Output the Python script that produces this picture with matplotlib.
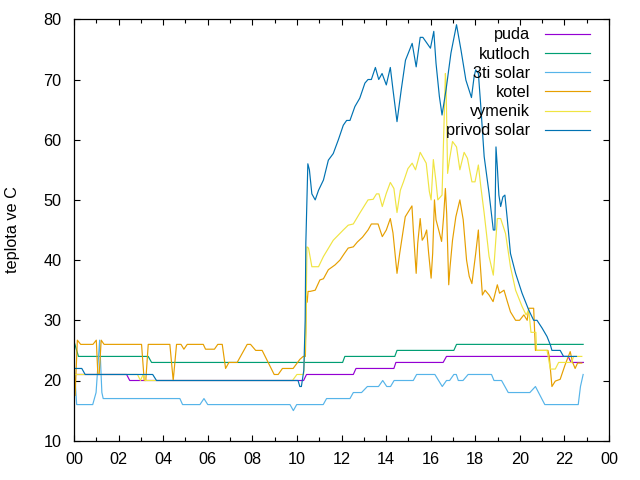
import matplotlib
matplotlib.use("Agg")
import matplotlib.pyplot as plt
from matplotlib.ticker import MultipleLocator, FuncFormatter

plt.rcParams['font.family'] = ['Liberation Sans', 'DejaVu Sans']

# casy v hodinach, teploty ve C
puda_h = [0.0, 2.36, 2.5, 10.3, 10.43, 12.53, 12.65, 14.35, 14.44, 16.56, 16.71, 22.17, 22.3, 22.85]
puda_t = [21, 21, 20, 20, 21, 21, 22, 22, 23, 23, 24, 24, 23, 23]

kutloch_h = [0.0, 0.2, 3.33, 3.48, 12.05, 12.15, 14.39, 14.49, 17.04, 17.16, 22.84]
kutloch_t = [26.5, 24, 24, 23, 23, 24, 24, 25, 25, 26, 26]

solar3_h = [0.0, 0.12, 0.84, 0.99, 1.15, 1.25, 1.31, 4.75, 4.87, 5.65, 5.83, 6.0,
            9.69, 9.84, 9.99, 11.18, 11.33, 12.38, 12.53, 12.9, 13.16, 13.66, 13.85,
            14.03, 14.2, 14.36, 15.22, 15.37, 16.19, 16.52, 16.71, 16.85, 17.04,
            17.15, 17.24, 17.45, 17.68, 18.73, 18.84, 19.18, 19.48, 20.45, 20.7,
            21.12, 22.62, 22.72, 22.84]
solar3_t = [23, 16, 16, 18, 26.7, 18, 17, 17, 16, 16, 17, 16,
            16, 15, 16, 16, 17, 17, 18, 18, 19, 19, 20,
            19, 19, 20, 20, 21, 21, 19, 20, 20, 21,
            21, 20, 20, 21, 21, 20, 20, 18, 18, 19,
            16, 16, 19, 21]

kotel_h = [0.0, 0.05, 0.15, 0.3, 0.85, 1.0, 1.07, 1.13, 1.22, 1.35, 3.03, 3.15, 3.22,
           3.33, 4.3, 4.45, 4.6, 4.8, 4.93, 5.08, 5.8, 5.9, 6.3, 6.45, 6.65, 6.8,
           6.95, 7.32, 7.77, 7.92, 8.15, 8.44, 8.98, 9.16, 9.35, 9.83, 10.13, 10.28,
           10.38, 10.4, 10.42, 10.46, 10.5, 10.59, 10.82, 11.03, 11.19, 11.41, 11.71,
           11.93, 12.11, 12.30, 12.53, 12.71, 12.94, 13.19, 13.34, 13.64, 13.83,
           14.01, 14.19, 14.31, 14.49, 14.61, 14.86, 15.16, 15.23, 15.35, 15.42,
           15.53, 15.62, 15.72, 15.82, 15.91, 16.02, 16.09, 16.17, 16.24, 16.36,
           16.49, 16.58, 16.66, 16.72, 16.81, 16.87, 16.98, 17.13, 17.31, 17.46,
           17.61, 17.73, 17.85, 18.02, 18.14, 18.2, 18.32, 18.44, 18.62, 18.80,
           18.99, 19.09, 19.29, 19.44, 19.58, 19.81, 19.99, 20.18, 20.33, 20.4,
           20.62, 20.7, 21.26, 21.32, 21.44, 21.59, 21.81, 22.03, 22.26, 22.36,
           22.48, 22.59, 22.78]
kotel_t = [23, 17.5, 26.7, 26, 26, 26.7, 21, 21, 26.7, 26, 26, 20, 20,
           26, 26, 20, 26, 26, 25.2, 26, 26, 25.2, 25.2, 26, 26, 22,
           23, 23, 26, 26, 25, 25, 21, 21, 22, 22, 23.5, 24,
           24, 28, 34, 33, 34.8, 34.8, 35, 36.7, 36.9, 38.4, 39.2,
           40, 41, 42, 42.2, 43, 43.8, 45, 46, 46, 43.9,
           45, 46.9, 44.5, 37.8, 41.1, 47.2, 49, 44.5, 37.8, 42.8,
           46.9, 43.3, 43.9, 45, 41.1, 37, 41.1, 50, 46.7, 45,
           43.1, 47.2, 51.9, 47.6, 35.9, 38.9, 43.3, 47.2, 50, 46.7,
           40, 37.3, 36.1, 41.1, 45, 40.6, 34.2, 35, 34.2, 33.1,
           35.9, 34.5, 35, 33.1, 31.4, 30, 30, 30.9, 30, 32,
           32, 25, 25, 24, 19, 19.9, 20.2, 22.6, 24.8, 23.1,
           22, 22.9, 22.9]

vymenik_h = [0.0, 0.4, 0.5, 2.85, 2.98, 3.1, 3.2, 3.6, 3.7, 9.8, 10.0, 10.3, 10.4,
             10.45, 10.52, 10.67, 10.97, 11.19, 11.63, 12.08, 12.30, 12.53, 12.82,
             13.19, 13.42, 13.57, 13.68, 13.83, 14.01, 14.19, 14.35, 14.49, 14.64,
             14.78, 14.98, 15.17, 15.32, 15.53, 15.80, 15.94, 16.02, 16.12, 16.24,
             16.32, 16.51, 16.57, 16.66, 16.69, 16.76, 16.84, 16.98, 17.16, 17.31,
             17.50, 17.65, 17.85, 17.99, 18.14, 18.25, 18.40, 18.62, 18.81, 18.99,
             19.14, 19.36, 19.58, 19.81, 20.10, 20.28, 20.40, 20.5, 20.72, 20.75,
             21.22, 21.37, 21.59, 21.74, 22.33, 22.41, 22.78]
vymenik_t = [21, 21, 21, 21, 20, 21, 20, 20, 20, 20, 21, 21, 28,
             42.2, 42, 38.9, 38.9, 40.6, 43.3, 45, 45.8, 46, 47.8,
             50, 50.1, 51, 51, 48.9, 51.1, 52.9, 51.9, 47.9, 51.6,
             53, 55.2, 56.1, 55, 57.9, 56.1, 51.4, 50, 56.7, 53,
             50, 50.8, 58.8, 71, 69.4, 54.4, 56.6, 59.7, 58.8, 55,
             57.9, 56.9, 53, 53, 55.8, 52.2, 47.8, 40.6, 37.5, 46.9,
             46.9, 44.4, 38.9, 35, 32.3, 30.9, 31.7, 28, 28, 25,
             25, 21.9, 21.9, 23, 23, 24, 24]

privod_h = [0.0, 0.35, 0.5, 3.53, 3.7, 10.05, 10.13, 10.2, 10.31, 10.37, 10.40,
            10.46, 10.49, 10.56, 10.67, 10.82, 10.97, 11.19, 11.41, 11.63, 11.86,
            12.08, 12.23, 12.38, 12.60, 12.82, 13.05, 13.19, 13.34, 13.52, 13.67,
            13.82, 14.01, 14.19, 14.31, 14.49, 14.68, 14.87, 15.17, 15.35, 15.53,
            15.65, 15.99, 16.14, 16.24, 16.39, 16.51, 16.69, 16.91, 17.16, 17.36,
            17.58, 17.83, 17.95, 18.02, 18.14, 18.25, 18.40, 18.62, 18.81, 18.88,
            18.93, 18.99, 19.06, 19.14, 19.24, 19.33, 19.44, 19.58, 19.81, 20.10,
            20.40, 20.62, 20.77, 21.00, 21.22, 21.37, 21.44, 21.81, 21.96, 22.54]
privod_t = [22, 22, 21, 21, 20, 20, 19, 19, 21.7, 30, 42.8,
            51.6, 56, 55, 51, 50, 51.6, 53.3, 56.6, 57.7, 60,
            62.4, 63.2, 63.2, 65.5, 66.9, 69.4, 70, 70, 72, 70,
            71, 69.1, 72, 68.3, 63, 68.3, 73.2, 76, 72.1, 77,
            77, 75.2, 78, 72.7, 67.2, 64.1, 68.3, 74.4, 79.1, 74.9,
            69.9, 67, 70.5, 71.6, 71, 65.5, 57.2, 51.1, 45, 45,
            58.8, 55.5, 50.8, 48.9, 50.5, 50.8, 46.7, 41.1, 37.8, 34.5,
            31.7, 30, 30, 28.7, 27.3, 25.9, 25, 25, 24, 24]

fig = plt.figure(figsize=(6.4, 4.8), dpi=100)
ax = fig.add_axes([74 / 640, 1 - 440.7 / 480, 535 / 640, 421.4 / 480])

lw = 0.85
fs = 11.7
ax.plot(puda_h, puda_t, color="#9400d3", lw=lw, label="puda")
ax.plot(kutloch_h, kutloch_t, color="#009e73", lw=lw, label="kutloch")
ax.plot(solar3_h, solar3_t, color="#56b4e9", lw=lw, label="3ti solar")
ax.plot(kotel_h, kotel_t, color="#e69f00", lw=lw, label="kotel")
ax.plot(vymenik_h, vymenik_t, color="#f0e442", lw=lw, label="vymenik")
ax.plot(privod_h, privod_t, color="#0072b2", lw=lw, label="privod solar")

ax.set_xlim(0, 24)
ax.set_ylim(10, 80)
ax.xaxis.set_major_locator(MultipleLocator(2))
ax.xaxis.set_minor_locator(MultipleLocator(1))
ax.xaxis.set_major_formatter(FuncFormatter(lambda v, p: "%02d" % (int(round(v)) % 24)))
ax.yaxis.set_major_locator(MultipleLocator(10))
ax.tick_params(which="both", direction="in", top=True, right=True, labelsize=fs, width=0.8)
ax.tick_params(which="major", length=4.5)
ax.tick_params(which="minor", length=3)
ax.tick_params(axis="y", pad=9)
ax.tick_params(axis="x", pad=8)
for s in ax.spines.values():
    s.set_linewidth(0.9)

ax.set_ylabel("teplota ve C", fontsize=fs)
ax.yaxis.set_label_coords(-0.101, 0.5)

leg = ax.legend(loc="upper right", bbox_to_anchor=(0.9645, 0.981), markerfirst=False,
                frameon=False, fontsize=fs, handlelength=2.77, handletextpad=0.92,
                labelspacing=0.26, borderpad=0, borderaxespad=0)

plt.savefig("out.png", dpi=100)
